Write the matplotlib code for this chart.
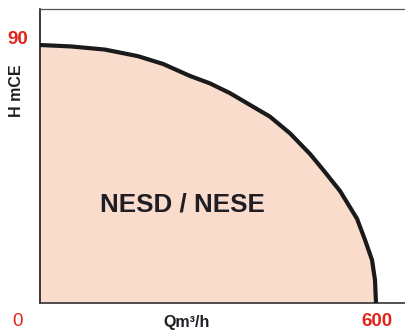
import matplotlib
matplotlib.use("Agg")
import matplotlib.pyplot as plt

# Data
flow = [0, 55.4, 116.1, 175.0, 219.6, 267.9, 303.6, 339.3, 375.0, 410.7, 446.4,
        482.1, 505.4, 535.7, 566.1, 580.4, 592.9, 598.2, 600]
head = [90, 89.5, 88.4, 86.1, 83.4, 79.2, 76.6, 73.2, 69.1, 65.0, 59.2,
        52.0, 46.5, 39.1, 29.4, 22.0, 15.0, 8.0, 0]
region_label = "NESD / NESE"
x_unit = "Qm³/h"
y_unit = "H mCE"
x_min_label, x_max_label = "0", "600"
y_max_label = "90"

W, H = 406, 331
fig = plt.figure(figsize=(W / 100, H / 100), dpi=100)
ax = fig.add_axes([40 / W, (H - 303) / H, (W + 10 - 40) / W, (303 - 9) / H])
ax.set_xlim(0, 600 * 376 / 336)
ax.set_ylim(0, 90 * 294 / 258)

peach = "#F9DCCB"
red = "#E3241B"
ax.fill_between(flow, head, 0, color=peach, linewidth=0, zorder=1)
ax.plot(flow, head, color="#1a1a1a", lw=3.0, solid_capstyle="butt",
        solid_joinstyle="round", zorder=3)

ax.set_xticks([])
ax.set_yticks([])
ax.spines["right"].set_visible(False)
ax.spines["left"].set_color("#1a1a1a")
ax.spines["left"].set_linewidth(1.2)
ax.spines["bottom"].set_color("#333333")
ax.spines["bottom"].set_linewidth(1.2)
ax.spines["top"].set_color("#555555")
ax.spines["top"].set_linewidth(0.9)

font = "Liberation Sans"
fig.text(182.5 / W, 1 - 205 / H, region_label, ha="center", va="center",
         fontsize=18.7, fontweight="bold", color="#1e1e24", family=font)

def ftext(x, y, s, **kw):
    fig.text(x / W, 1 - y / H, s, ha="center", va="center", family=font, **kw)

ftext(18, 40, y_max_label, fontsize=13.5, fontweight="bold", color=red)
ftext(18, 322, x_min_label, fontsize=13.5, color=red)
ftext(377, 322, x_max_label, fontsize=13.5, fontweight="bold", color=red)
ftext(187, 322, x_unit, fontsize=11.5, fontweight="bold", color="#1e1e24")
ftext(17, 91, y_unit, fontsize=11.5, fontweight="bold", color="#1e1e24", rotation=90)

fig.savefig("out.png", dpi=100)
